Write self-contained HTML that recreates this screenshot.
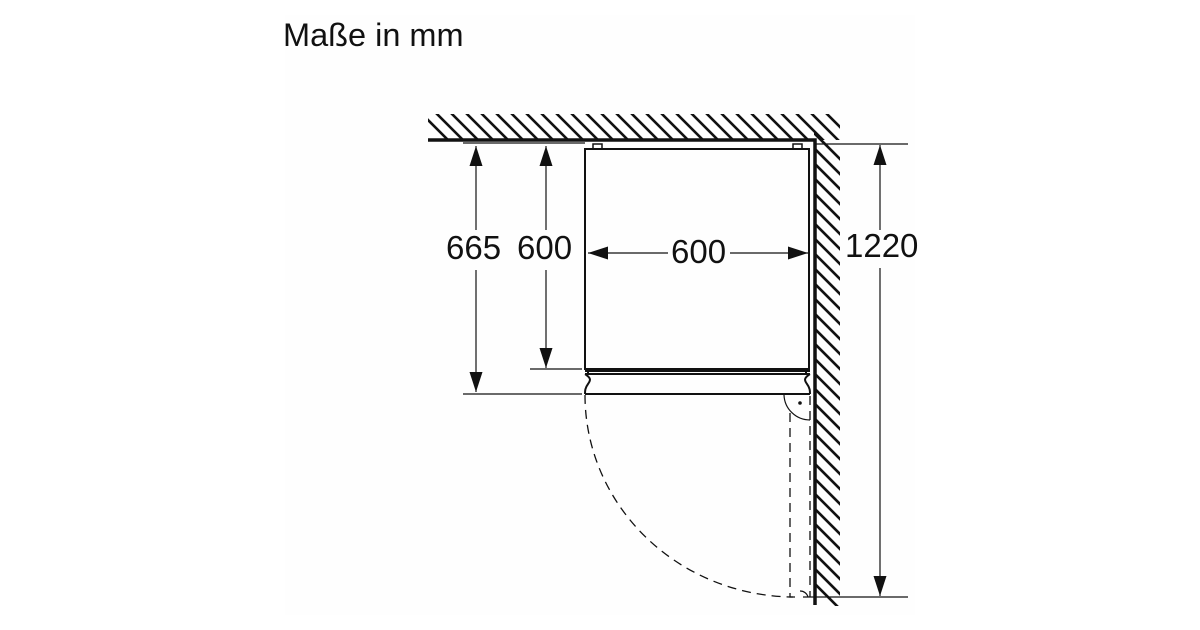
<!DOCTYPE html>
<html><head><meta charset="utf-8"><style>
html,body{margin:0;padding:0;background:#fff;}
svg{display:block;}
text{font-family:"Liberation Sans",Arial,sans-serif;fill:#111;}
</style></head><body>
<svg width="1200" height="630" viewBox="0 0 1200 630" xmlns="http://www.w3.org/2000/svg">
<rect x="285" y="15" width="630" height="600" fill="#fefefe"/>
<text x="283" y="46" font-size="32.5">Maße in mm</text>
<defs>
<clipPath id="ct"><rect x="428" y="114" width="412" height="26"/></clipPath>
<clipPath id="cr"><rect x="814" y="114" width="26" height="492"/></clipPath>
<marker id="a" viewBox="0 0 10 10" refX="10" refY="5" markerWidth="20" markerHeight="13" markerUnits="userSpaceOnUse" orient="auto" preserveAspectRatio="none"><path d="M0,0 L10,5 L0,10 Z" fill="#111"/></marker>
</defs>
<g stroke="#111" stroke-width="2.6" clip-path="url(#ct)">
<path d="M420,112l30,30 M435,112l30,30 M450,112l30,30 M465,112l30,30 M480,112l30,30 M495,112l30,30 M510,112l30,30 M525,112l30,30 M540,112l30,30 M555,112l30,30 M570,112l30,30 M585,112l30,30 M600,112l30,30 M615,112l30,30 M630,112l30,30 M645,112l30,30 M660,112l30,30 M675,112l30,30 M690,112l30,30 M705,112l30,30 M720,112l30,30 M735,112l30,30 M750,112l30,30 M765,112l30,30 M780,112l30,30 M795,112l30,30 M810,112l30,30 M825,112l30,30"/>
</g>
<g stroke="#111" stroke-width="2.6" clip-path="url(#cr)">
<path d="M812,131l30,30 M812,146l30,30 M812,161l30,30 M812,176l30,30 M812,191l30,30 M812,206l30,30 M812,221l30,30 M812,236l30,30 M812,251l30,30 M812,266l30,30 M812,281l30,30 M812,296l30,30 M812,311l30,30 M812,326l30,30 M812,341l30,30 M812,356l30,30 M812,371l30,30 M812,386l30,30 M812,401l30,30 M812,416l30,30 M812,431l30,30 M812,446l30,30 M812,461l30,30 M812,476l30,30 M812,491l30,30 M812,506l30,30 M812,521l30,30 M812,536l30,30 M812,551l30,30 M812,566l30,30 M812,581l30,30"/>
</g>
<g fill="none" stroke="#111">
<path d="M428,140 H815 V605" stroke-width="3.5"/>
<rect x="585" y="149" width="224" height="220" stroke-width="2"/>
<rect x="593" y="144" width="9" height="5" stroke-width="1.5"/>
<rect x="793" y="144" width="9" height="5" stroke-width="1.5"/>
<path d="M585,371 H810 M588,369 V374 M806,369 V374" stroke-width="2"/>
<path d="M585,374 H810 M585,394 H810 M585,374 c6,4 6,6 3,10 c-3,4 -3,7 -3,10 M810,374 c-6,4 -6,6 -3,10 c3,4 3,7 3,10" stroke-width="2"/>
<g stroke-width="1.2">
<path d="M463,143 H585 M463,394 H582 M530,369 H582 M815,144 H908 M803,597 H908"/>
<path d="M476,270 V392" marker-end="url(#a)"/>
<path d="M476,230 V146" marker-end="url(#a)"/>
<path d="M546,230 V146" marker-end="url(#a)"/>
<path d="M546,270 V368" marker-end="url(#a)"/>
<path d="M668,253 H588" marker-end="url(#a)"/>
<path d="M730,253 H808" marker-end="url(#a)"/>
<path d="M880,230 V145" marker-end="url(#a)"/>
<path d="M880,268 V596" marker-end="url(#a)"/>
</g>
<g stroke-width="1.3" stroke-dasharray="9,6">
<path d="M585,395 A210,202 0 0 0 793,597"/>
<path d="M790,413 V597 H797"/>
<path d="M810,396 V597"/>
</g>
<path d="M784,395 A26,26 0 0 0 810,420" stroke-width="1.2"/>
<path d="M800,591 a8,8 0 0 1 8,6" stroke-width="1.2"/>
</g>
<circle cx="800" cy="403" r="1.8" fill="#111"/>
<text x="446" y="259" font-size="33">665</text>
<text x="517" y="259" font-size="33">600</text>
<text x="671" y="263" font-size="33">600</text>
<text x="845" y="257" font-size="33">1220</text>
</svg>
</body></html>
